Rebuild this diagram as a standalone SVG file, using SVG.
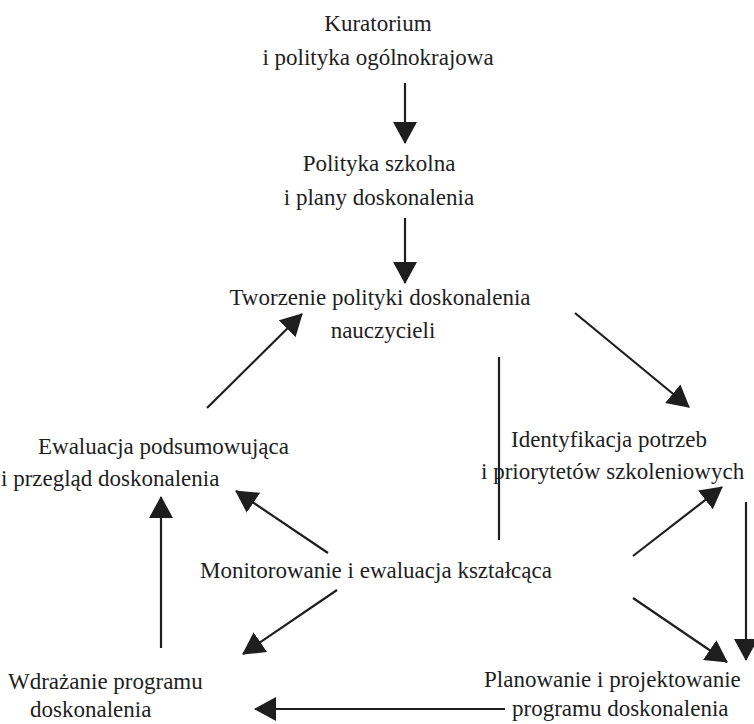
<svg xmlns="http://www.w3.org/2000/svg" width="754" height="724" viewBox="0 0 754 724">
<style>
text{font-family:"Liberation Serif","Times New Roman",serif;font-size:23px;fill:#1e1e1e}
.m{text-anchor:middle}
.c line{stroke:#1e1e1e;stroke-width:2.2;marker-end:url(#ah)}
.c line.plain{marker-end:none}
</style>
<defs>
<marker id="ah" markerUnits="userSpaceOnUse" viewBox="0 0 22 24" markerWidth="22" markerHeight="24" refX="21" refY="12" orient="auto">
<path d="M0,0 L22,12 L0,24 z" fill="#1e1e1e"/>
</marker>
</defs>
<rect width="754" height="724" fill="#fff"/>
<g id="kuratorium"><text class="m" x="378" y="31">Kuratorium</text><text class="m" x="378" y="65">i polityka ogólnokrajowa</text></g>
<g id="polityka-szkolna"><text class="m" x="379" y="171">Polityka szkolna</text><text class="m" x="379" y="205">i plany doskonalenia</text></g>
<g id="tworzenie"><text class="m" x="380" y="305">Tworzenie polityki doskonalenia</text><text class="m" x="383" y="338">nauczycieli</text></g>
<g id="ewaluacja"><text x="38" y="454">Ewaluacja podsumowująca</text><text x="1" y="486">i przegląd doskonalenia</text></g>
<g id="identyfikacja"><text x="511" y="447">Identyfikacja potrzeb</text><text x="481" y="479">i priorytetów szkoleniowych</text></g>
<g id="monitorowanie"><text x="200" y="578">Monitorowanie i ewaluacja kształcąca</text></g>
<g id="wdrazanie"><text x="8" y="689">Wdrażanie programu</text><text x="30" y="717">doskonalenia</text></g>
<g id="planowanie"><text x="484" y="687">Planowanie i projektowanie</text><text x="512" y="716">programu doskonalenia</text></g>
<g id="connectors" class="c">
<line x1="405" y1="83" x2="405" y2="143"/>
<line x1="405" y1="218" x2="405" y2="283"/>
<line x1="207" y1="408" x2="302" y2="314"/>
<line x1="575" y1="313" x2="689" y2="407"/>
<line x1="633" y1="556" x2="722" y2="487"/>
<line x1="746" y1="502" x2="746" y2="660"/>
<line x1="633" y1="598" x2="727" y2="662"/>
<line x1="328" y1="553" x2="236" y2="491"/>
<line x1="337" y1="590" x2="243" y2="654"/>
<line x1="161" y1="648" x2="161" y2="497"/>
<line x1="505" y1="709" x2="255" y2="709"/>
<line class="plain" x1="499" y1="357" x2="499" y2="540"/>
</g>
</svg>
